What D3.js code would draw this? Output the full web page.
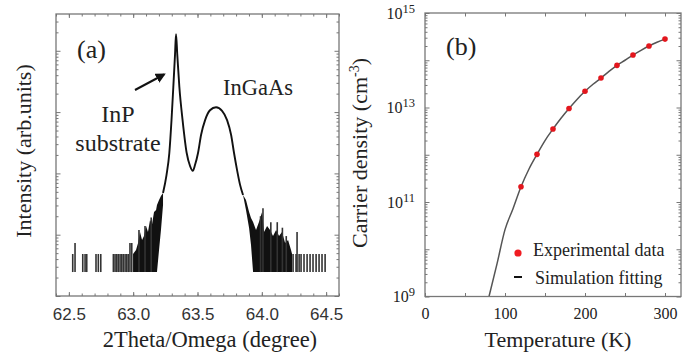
<!DOCTYPE html>
<html>
<head>
<meta charset="utf-8">
<script src="https://cdn.jsdelivr.net/npm/d3@7"></script>
<style>
  html, body { margin: 0; padding: 0; background: #fff; }
  svg { display: block; }
  .serif { font-family: "Liberation Serif", "Times New Roman", serif; fill: #222; }
  .sans { font-family: "Liberation Sans", Arial, sans-serif; fill: #333; }
</style>
</head>
<body>
<svg id="chart" width="692" height="354"></svg>
<script>
// ---- panel (a): XRD scan, intensity in arb. units ----
const xrdFloor = 2.46;          // one-count level of the noise floor
// main diffraction profile [2theta, intensity]
const xrdCurve = [
  [63.232, 47.9], [63.259, 94], [63.281, 215], [63.298, 741],
  [63.312, 2570], [63.325, 8510], [63.333, 18600], [63.343, 8510], [63.359, 2570],
  [63.384, 741], [63.416, 215], [63.442, 132], [63.463, 110], [63.481, 138],
  [63.504, 215], [63.528, 427], [63.559, 741], [63.597, 1070], [63.644, 1200],
  [63.691, 1050], [63.730, 741], [63.761, 427], [63.784, 215], [63.807, 115],
  [63.831, 65], [63.854, 44.4]
];
// dense noise on the low-angle side [2theta, lower edge, upper edge]
const noiseLeft = [
  [62.999, 2.46, 4.84], [63.022, 2.46, 5.63], [63.038, 2.46, 7.32], [63.053, 2.46, 11.07],
  [63.069, 2.46, 8.2], [63.084, 2.46, 9.53], [63.100, 2.46, 13.9], [63.115, 2.46, 11.07],
  [63.131, 2.46, 17.4], [63.147, 2.46, 14.9], [63.162, 2.46, 23.5], [63.178, 2.46, 25.3],
  [63.185, 2.46, 30.5], [63.201, 5.63, 36.8], [63.216, 11.9, 42.8], [63.232, 30.5, 47.9]
];
// dense noise on the high-angle side [2theta, lower edge, upper edge]
const noiseRight = [
  [63.854, 44.4, 44.4], [63.877, 25.3, 36.8], [63.901, 12.9, 23.5], [63.916, 6.79, 18.7],
  [63.932, 2.46, 16.1], [63.955, 2.46, 11.9], [63.978, 2.46, 16.1], [64.002, 2.46, 23.5],
  [64.017, 2.46, 11.07], [64.041, 2.46, 13.9], [64.064, 2.46, 11.9], [64.087, 2.46, 9.53],
  [64.111, 2.46, 11.9], [64.134, 2.46, 9.53], [64.157, 2.46, 11.07], [64.181, 2.46, 7.32],
  [64.204, 2.46, 8.2], [64.227, 2.46, 5.63], [64.235, 2.46, 4.84]
];
// isolated count spikes [2theta, intensity]
const spikes = [
  [62.530, 4.84], [62.548, 7.32], [62.608, 4.84], [62.626, 4.84], [62.639, 4.84],
  [62.711, 4.84], [62.729, 4.84], [62.748, 4.84], [62.846, 4.84], [62.859, 4.84],
  [62.872, 4.84], [62.884, 4.84], [62.898, 4.84], [62.911, 4.84], [62.923, 4.84],
  [62.937, 4.84], [62.950, 4.84], [62.962, 4.84], [62.975, 7.32], [62.989, 7.32],
  [63.045, 11.9], [63.092, 13.9], [63.140, 19],
  [63.990, 20], [64.009, 27], [64.070, 16], [64.120, 16], [64.160, 13], [64.190, 9.5],
  [64.243, 4.84], [64.266, 4.84], [64.274, 11.1], [64.290, 4.84], [64.305, 4.84],
  [64.328, 4.84], [64.352, 4.84], [64.375, 4.84], [64.398, 4.84], [64.422, 4.84],
  [64.445, 4.84], [64.468, 4.84], [64.492, 4.84]
];
const xTicksA = [62.5, 63.0, 63.5, 64.0, 64.5];

// ---- panel (b): carrier density vs temperature ----
const tempExp = [120, 140, 160, 180, 200, 220, 240, 260, 280, 300];
const densExp = [2.1e11, 1.02e12, 3.5e12, 9.5e12, 2.2e13, 4.2e13, 7.8e13, 1.29e14, 2.0e14, 2.8e14];
const tempSim = [80, 90, 100, 110, 120, 130, 140, 150, 160, 170, 180, 190, 200,
                 210, 220, 230, 240, 250, 260, 270, 280, 290, 300];
const densSim = [1e9, 4.9e9, 2.6e10, 7.2e10, 2.1e11, 5.0e11, 1.02e12, 2.0e12, 3.5e12,
                 5.9e12, 9.5e12, 1.48e13, 2.2e13, 3.1e13, 4.2e13, 5.8e13, 7.8e13,
                 1.0e14, 1.29e14, 1.62e14, 2.0e14, 2.4e14, 2.8e14];
const xTicksB = [0, 100, 200, 300];
const yTicksB = [1e9, 1e11, 1e13, 1e15];

const svg = d3.select('#chart');
svg.append('rect').attr('width', 692).attr('height', 354).attr('fill', '#fff');

const frameColor = '#777';

function logTicks(scale) {
  return scale.ticks().filter(v => v >= scale.domain()[0] && v <= scale.domain()[1]);
}
function isDecade(v) {
  return Math.abs(Math.log10(v) - Math.round(Math.log10(v))) < 1e-6;
}
function styleAxis(g) {
  g.select('.domain').remove();
  g.selectAll('.tick line').attr('stroke', frameColor).attr('stroke-width', 1);
}

// ================= panel (a) =================
const xA = d3.scaleLinear().domain([62.4, 64.6]).range([56, 339]);
const yA = d3.scaleLog().domain([1, Math.pow(10, 4.6)]).range([296, 14]);
const gA = svg.append('g');

const clipA = svg.append('clipPath').attr('id', 'clipA');
clipA.append('rect').attr('x', 56).attr('y', 14).attr('width', 283).attr('height', 282);

const minorA = d3.range(62.4, 64.61, 0.1).map(v => +v.toFixed(1));
gA.append('g').attr('transform', 'translate(0,296)')
  .call(d3.axisBottom(xA).tickValues(minorA).tickSizeInner(-2.5).tickSizeOuter(0).tickFormat(''))
  .call(styleAxis);
gA.append('g').attr('transform', 'translate(0,14)')
  .call(d3.axisTop(xA).tickValues(minorA).tickSizeInner(-2.5).tickSizeOuter(0).tickFormat(''))
  .call(styleAxis);
gA.append('g').attr('transform', 'translate(0,296)')
  .call(d3.axisBottom(xA).tickValues(xTicksA).tickSizeInner(-4).tickSizeOuter(0)
    .tickPadding(12).tickFormat(d3.format('.1f')))
  .call(styleAxis)
  .call(g => g.selectAll('text').attr('class', 'sans').attr('font-size', 17).attr('fill', '#333'));
gA.append('g').attr('transform', 'translate(0,14)')
  .call(d3.axisTop(xA).tickValues(xTicksA).tickSizeInner(-4).tickSizeOuter(0).tickFormat(''))
  .call(styleAxis);

const yTicksA = logTicks(yA);
[[56, d3.axisLeft], [339, d3.axisRight]].forEach(([px, ax]) => {
  gA.append('g').attr('transform', `translate(${px},0)`)
    .call(ax(yA).tickValues(yTicksA.filter(v => !isDecade(v))).tickSizeInner(-2.5).tickSizeOuter(0).tickFormat(''))
    .call(styleAxis);
  gA.append('g').attr('transform', `translate(${px},0)`)
    .call(ax(yA).tickValues(yTicksA.filter(isDecade)).tickSizeInner(-4.5).tickSizeOuter(0).tickFormat(''))
    .call(styleAxis);
});

const plotA = gA.append('g').attr('clip-path', 'url(#clipA)');
const band = d3.area().x(d => xA(d[0])).y0(d => yA(d[1])).y1(d => yA(d[2]));
plotA.append('path').datum(noiseLeft).attr('d', band).attr('fill', '#111');
plotA.append('path').datum(noiseRight).attr('d', band).attr('fill', '#111');
plotA.selectAll('line.spike').data(spikes).join('line').attr('class', 'spike')
  .attr('x1', d => xA(d[0])).attr('x2', d => xA(d[0]))
  .attr('y1', yA(xrdFloor)).attr('y2', d => yA(d[1]))
  .attr('stroke', '#333').attr('stroke-width', 1.6);
plotA.append('path').datum(xrdCurve)
  .attr('d', d3.line().x(d => xA(d[0])).y(d => yA(d[1])).curve(d3.curveMonotoneX))
  .attr('fill', 'none').attr('stroke', '#111').attr('stroke-width', 1.9)
  .attr('stroke-linejoin', 'round');

gA.append('rect').attr('x', 56).attr('y', 14).attr('width', 283).attr('height', 282)
  .attr('fill', 'none').attr('stroke', frameColor).attr('stroke-width', 1.3);

// annotations
svg.append('defs').append('marker').attr('id', 'arrow')
  .attr('viewBox', '0 0 10 10').attr('refX', 8).attr('refY', 5)
  .attr('markerWidth', 5).attr('markerHeight', 5).attr('orient', 'auto')
  .append('path').attr('d', 'M0,0 L10,5 L0,10 z').attr('fill', '#111');
gA.append('line').attr('x1', 135).attr('y1', 90).attr('x2', 164).attr('y2', 74.5)
  .attr('stroke', '#111').attr('stroke-width', 2).attr('marker-end', 'url(#arrow)');
gA.append('text').attr('class', 'serif').attr('x', 77).attr('y', 58).attr('font-size', 26).text('(a)');
gA.append('text').attr('class', 'serif').attr('x', 223).attr('y', 95).attr('font-size', 22.5).text('InGaAs');
gA.append('text').attr('class', 'serif').attr('x', 118).attr('y', 122).attr('font-size', 24)
  .attr('text-anchor', 'middle').text('InP');
gA.append('text').attr('class', 'serif').attr('x', 118).attr('y', 151).attr('font-size', 24)
  .attr('text-anchor', 'middle').text('substrate');
gA.append('text').attr('class', 'serif').attr('x', 210).attr('y', 347).attr('font-size', 22.5)
  .attr('text-anchor', 'middle').text('2Theta/Omega (degree)');
gA.append('text').attr('class', 'serif').attr('font-size', 22).attr('text-anchor', 'middle')
  .attr('transform', 'translate(31,151) rotate(-90)').text('Intensity (arb.units)');

// ================= panel (b) =================
const xB = d3.scaleLinear().domain([0, 320]).range([425, 681]);
const yB = d3.scaleLog().domain([1e9, 1e15]).range([296.5, 13]);
const gB = svg.append('g');

const clipB = svg.append('clipPath').attr('id', 'clipB');
clipB.append('rect').attr('x', 425).attr('y', 13).attr('width', 256).attr('height', 283.5);

const xMinorB = d3.range(0, 321, 50);
gB.append('g').attr('transform', 'translate(0,296.5)')
  .call(d3.axisBottom(xB).tickValues(xMinorB).tickSizeInner(-3.5).tickSizeOuter(0).tickFormat(''))
  .call(styleAxis);
gB.append('g').attr('transform', 'translate(0,13)')
  .call(d3.axisTop(xB).tickValues(xMinorB).tickSizeInner(-3.5).tickSizeOuter(0).tickFormat(''))
  .call(styleAxis);
gB.append('g').attr('transform', 'translate(0,296.5)')
  .call(d3.axisBottom(xB).tickValues(xTicksB).tickSizeInner(0).tickSizeOuter(0).tickPadding(11))
  .call(styleAxis)
  .call(g => g.selectAll('text').attr('class', 'serif').attr('font-size', 16).attr('fill', '#222'));

const yAllB = logTicks(yB);
[[425, d3.axisLeft], [681, d3.axisRight]].forEach(([px, ax]) => {
  gB.append('g').attr('transform', `translate(${px},0)`)
    .call(ax(yB).tickValues(yAllB.filter(v => !isDecade(v))).tickSizeInner(-2.5).tickSizeOuter(0).tickFormat(''))
    .call(styleAxis);
  gB.append('g').attr('transform', `translate(${px},0)`)
    .call(ax(yB).tickValues(yAllB.filter(isDecade)).tickSizeInner(-4.5).tickSizeOuter(0).tickFormat(''))
    .call(styleAxis);
});
gB.append('g').attr('transform', 'translate(425,0)')
  .call(d3.axisLeft(yB).tickValues(yTicksB).tickSizeInner(0).tickSizeOuter(0).tickPadding(10))
  .call(styleAxis)
  .call(g => g.selectAll('text').attr('class', 'serif').attr('font-size', 16).attr('fill', '#222')
    .each(function (d) {
      const t = d3.select(this).text('');
      t.append('tspan').text('10');
      t.append('tspan').attr('dy', -6).attr('font-size', 12.5).text(Math.round(Math.log10(d)));
    }));

const plotB = gB.append('g').attr('clip-path', 'url(#clipB)');
const simPts = tempSim.map((t, i) => [t, densSim[i]]);
plotB.append('path').datum(simPts)
  .attr('d', d3.line().x(d => xB(d[0])).y(d => yB(d[1])).curve(d3.curveMonotoneX))
  .attr('fill', 'none').attr('stroke', '#555').attr('stroke-width', 1.5);
plotB.selectAll('circle.exp').data(tempExp.map((t, i) => [t, densExp[i]])).join('circle')
  .attr('class', 'exp').attr('cx', d => xB(d[0])).attr('cy', d => yB(d[1]))
  .attr('r', 2.8).attr('fill', '#e3161d');

gB.append('rect').attr('x', 425).attr('y', 13).attr('width', 256).attr('height', 283.5)
  .attr('fill', 'none').attr('stroke', frameColor).attr('stroke-width', 1.3);

// legend
gB.append('circle').attr('cx', 518).attr('cy', 253).attr('r', 3.6).attr('fill', '#f01c22');
gB.append('text').attr('class', 'serif').attr('x', 533).attr('y', 256).attr('font-size', 18).text('Experimental data');
gB.append('line').attr('x1', 514).attr('x2', 522).attr('y1', 277).attr('y2', 277)
  .attr('stroke', '#111').attr('stroke-width', 2);
gB.append('text').attr('class', 'serif').attr('x', 535).attr('y', 283.5).attr('font-size', 18).text('Simulation fitting');

gB.append('text').attr('class', 'serif').attr('x', 446).attr('y', 55).attr('font-size', 26).text('(b)');
gB.append('text').attr('class', 'serif').attr('x', 558).attr('y', 347).attr('font-size', 22)
  .attr('text-anchor', 'middle').text('Temperature (K)');
const yl = gB.append('text').attr('class', 'serif').attr('font-size', 22).attr('text-anchor', 'middle')
  .attr('transform', 'translate(367,153) rotate(-90)');
yl.append('tspan').text('Carrier density (cm');
yl.append('tspan').attr('font-size', 14).attr('dy', -8).text('-3');
yl.append('tspan').attr('dy', 8).text(')');
</script>
</body>
</html>
